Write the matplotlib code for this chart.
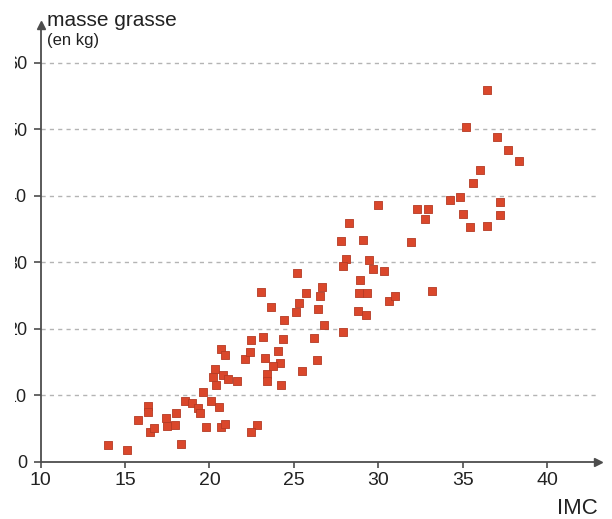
import matplotlib.pyplot as plt
from matplotlib import font_manager
from matplotlib.patches import Rectangle

# IMC (x) and body fat mass in kg (y), one entry per person
imc = [14.01, 15.12, 15.77, 16.38, 16.38, 16.48, 16.69, 17.43, 17.46, 18.02,
       17.98, 18.32, 18.58, 18.95, 19.34, 19.46, 19.60, 20.07, 20.56, 19.77,
       20.66, 20.92, 20.36, 20.20, 20.41, 20.81, 21.13, 21.61, 20.69, 20.91,
       22.08, 22.38, 22.46, 23.16, 23.06, 23.65, 24.39, 24.37, 24.08, 23.31,
       24.19, 23.79, 23.39, 23.39, 24.25, 22.82, 22.46, 25.46, 26.36, 26.19,
       25.13, 25.31, 25.17, 25.75, 26.67, 26.58, 26.46, 26.80, 27.94, 27.77,
       28.26, 29.96, 29.07, 28.09, 27.90, 29.47, 29.72, 30.33, 28.92, 28.86,
       29.35, 28.80, 29.28, 30.66, 31.00, 33.17, 31.97, 32.27, 32.92, 32.76,
       34.28, 34.85, 35.01, 35.44, 36.42, 37.23, 37.23, 35.62, 36.03, 35.18,
       36.43, 37.02, 37.67, 38.32]
masse = [2.51, 1.76, 6.27, 8.45, 7.47, 4.51, 5.07, 6.50, 5.44, 7.37,
         5.52, 2.66, 9.17, 8.87, 8.08, 7.32, 10.48, 9.08, 8.30, 5.22,
         5.17, 5.67, 13.94, 12.69, 11.61, 13.04, 12.44, 12.21, 17.02, 16.05,
         15.44, 16.50, 18.38, 18.80, 25.52, 23.26, 21.35, 18.41, 16.69, 15.67,
         14.89, 14.39, 13.26, 12.21, 11.49, 5.59, 4.47, 13.68, 15.29, 18.60,
         22.51, 23.86, 28.33, 25.41, 26.23, 24.96, 22.96, 20.51, 19.55, 33.23,
         35.85, 38.56, 33.34, 30.44, 29.43, 30.38, 28.98, 28.72, 27.40, 25.44,
         25.32, 22.66, 22.06, 24.17, 24.99, 25.62, 33.11, 38.08, 38.08, 36.45,
         39.35, 39.76, 37.25, 35.29, 35.52, 39.13, 37.05, 41.86, 43.86, 50.29,
         55.89, 48.87, 46.87, 45.26]

x_ticks = [10, 15, 20, 25, 30, 35, 40]
y_ticks = [0, 10, 20, 30, 40, 50, 60]

names = {f.name for f in font_manager.fontManager.ttflist}
family = 'Liberation Sans Narrow' if 'Liberation Sans Narrow' in names else 'Liberation Sans'
plt.rcParams['font.family'] = [family, 'DejaVu Sans']

axis_col = '#4d4d4d'
text_col = '#222222'

fig = plt.figure(figsize=(6.12, 5.19), dpi=100)
ax = fig.add_axes([0.0663, 0.1104, 0.9103, 0.8414])

ax.set_xlim(10, 43)
ax.set_ylim(0, 65.7)

# dashed horizontal guides
ax.hlines(y_ticks[1:], 10, 43, colors='#b4b4b4', linestyles=(0, (3, 3)), linewidth=1.0, zorder=1)

ax.scatter(imc, masse, marker='s', s=40, c='#da472b', edgecolors='#b53a24',
           linewidths=0.6, zorder=3)

for side in ['top', 'right']:
    ax.spines[side].set_visible(False)
for side in ['left', 'bottom']:
    ax.spines[side].set_color(axis_col)
    ax.spines[side].set_linewidth(1.3)

# arrow heads on both axes
ax.plot(1, 0, marker='>', color=axis_col, ms=6, transform=ax.transAxes, clip_on=False)
ax.plot(0, 1, marker='^', color=axis_col, ms=6, transform=ax.transAxes, clip_on=False)

ax.set_xticks(x_ticks)
ax.set_yticks(y_ticks)
ax.tick_params(axis='x', direction='out', length=4.5, width=1.2, color=axis_col,
               pad=3, labelsize=14, labelcolor=text_col)
ax.tick_params(axis='y', direction='out', length=5.4, width=1.2, color=axis_col,
               pad=4.3, labelsize=13, labelcolor=text_col)

fig.text(47 / 612, 1 - 26 / 519, 'masse grasse', fontsize=15, ha='left', va='baseline', color=text_col)
fig.text(47 / 612, 1 - 45 / 519, '(en kg)', fontsize=12, ha='left', va='baseline', color=text_col)
fig.text(598 / 612, 1 - 508 / 519, 'IMC', fontsize=16, ha='right', va='center', color=text_col)

# left margin is trimmed
fig.patches.append(Rectangle((0, 0), 15 / 612, 1, transform=fig.transFigure,
                             facecolor='white', edgecolor='none', zorder=10))

fig.savefig('out.png', dpi=100)
